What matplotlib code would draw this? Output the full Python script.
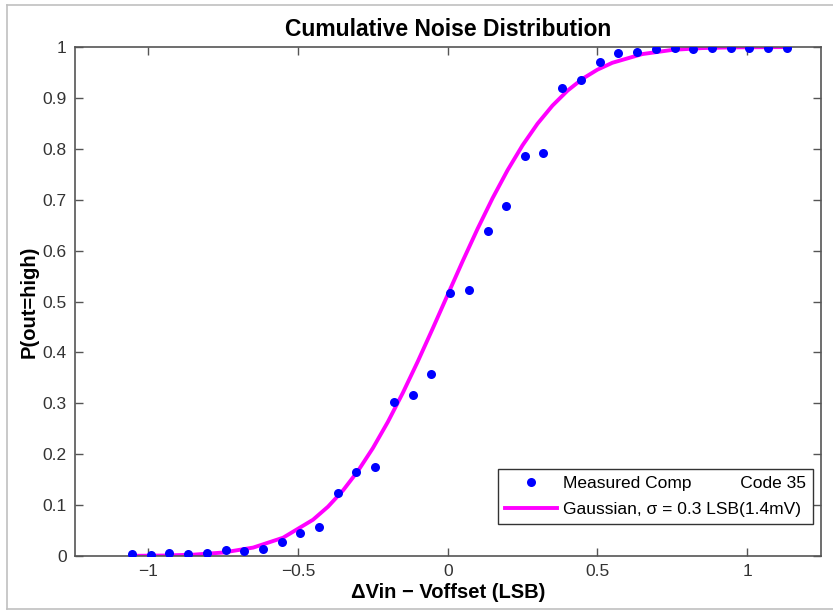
import matplotlib
matplotlib.use("Agg")
import matplotlib.pyplot as plt
from matplotlib.lines import Line2D

plt.rcParams['font.family'] = ['Liberation Sans', 'DejaVu Sans']

# Measured data points
meas_x = [-1.055, -0.992, -0.93, -0.867, -0.805, -0.742, -0.68, -0.617, -0.555, -0.492,
          -0.43, -0.367, -0.305, -0.242, -0.18, -0.117, -0.055, 0.008, 0.07, 0.133,
          0.195, 0.258, 0.32, 0.383, 0.445, 0.508, 0.57, 0.633, 0.695, 0.758,
          0.82, 0.883, 0.945, 1.008, 1.07, 1.133]
meas_y = [0.003, 0.002, 0.005, 0.004, 0.005, 0.011, 0.009, 0.014, 0.027, 0.046,
          0.057, 0.124, 0.166, 0.174, 0.303, 0.316, 0.357, 0.517, 0.522, 0.638,
          0.687, 0.786, 0.791, 0.919, 0.935, 0.971, 0.988, 0.991, 0.996, 0.998,
          0.997, 0.999, 0.999, 0.999, 0.999, 0.999]

# Fitted Gaussian curve
fit_x = [-1.055, -0.95, -0.85, -0.75, -0.65, -0.55, -0.45, -0.4, -0.35, -0.3,
         -0.25, -0.2, -0.15, -0.1, -0.05, 0.0, 0.05, 0.1, 0.15, 0.2,
         0.25, 0.3, 0.35, 0.4, 0.45, 0.5, 0.55, 0.65, 0.75, 0.85, 0.95, 1.133]
fit_y = [0.0003, 0.0009, 0.0026, 0.0068, 0.0165, 0.0359, 0.0712, 0.0968, 0.1286, 0.1669,
         0.2119, 0.2633, 0.3204, 0.3821, 0.4470, 0.5133, 0.5793, 0.6431, 0.7031, 0.7580,
         0.8069, 0.8493, 0.8849, 0.9141, 0.9374, 0.9554, 0.9690, 0.9861, 0.9943, 0.9979,
         0.9993, 0.9999]

x_ticks = [-1, -0.5, 0, 0.5, 1]
x_tick_labels = ['\u22121', '\u22120.5', '0', '0.5', '1']
y_ticks = [0, 0.1, 0.2, 0.3, 0.4, 0.5, 0.6, 0.7, 0.8, 0.9, 1]
y_tick_labels = ['0', '0.1', '0.2', '0.3', '0.4', '0.5', '0.6', '0.7', '0.8', '0.9', '1']

W, H = 833, 611
fig = plt.figure(figsize=(W / 100, H / 100), dpi=100)
fig.patch.set_facecolor('white')

# light gray frame around figure
border_col = '#c0c0c0'
fig.add_artist(Line2D([7 / W, 1], [1 - 5 / H, 1 - 5 / H], color=border_col, lw=1.2, transform=fig.transFigure))
fig.add_artist(Line2D([7 / W, 7 / W], [1 - 5 / H, 1 - 609 / H], color=border_col, lw=1.2, transform=fig.transFigure))
fig.add_artist(Line2D([7 / W, 1], [1 - 609 / H, 1 - 609 / H], color=border_col, lw=1.2, transform=fig.transFigure))

left, right, top, bottom = 75, 821, 47, 556
ax = fig.add_axes([left / W, 1 - bottom / H, (right - left) / W, (bottom - top) / H])

ax.plot(fit_x, fit_y, color='#ff00ff', lw=2.8, zorder=2,
        label='Gaussian, \u03c3 = 0.3 LSB(1.4mV)')
ax.plot(meas_x, meas_y, 'o', color='#0000ff', markersize=6.5, markeredgewidth=0, zorder=3,
        label='Measured Comp' + ' ' * 10 + 'Code 35')

ax.set_xlim(-1.245, 1.247)
ax.set_ylim(0, 1)
ax.set_xticks(x_ticks)
ax.set_xticklabels(x_tick_labels)
ax.set_yticks(y_ticks)
ax.set_yticklabels(y_tick_labels)

spine_col = '#555555'
for s in ax.spines.values():
    s.set_color(spine_col)
    s.set_linewidth(1.2)
ax.tick_params(direction='in', length=6, width=1.0, color=spine_col,
               top=True, right=True, labelsize=12.5, labelcolor='#333333', pad=6)

ax.set_title('Cumulative Noise Distribution', fontsize=16.5, fontweight='bold', pad=8)
ax.set_xlabel('\u0394Vin \u2212 Voffset (LSB)', fontsize=14.5, fontweight='bold', labelpad=3)
ax.set_ylabel('P(out=high)', fontsize=14.5, fontweight='bold', labelpad=3)

handles, labels = ax.get_legend_handles_labels()
leg = ax.legend(handles[::-1], labels[::-1], loc='lower right',
                bbox_to_anchor=(0.989, 0.063), borderaxespad=0, fontsize=12.5,
                frameon=True, fancybox=False, edgecolor='#333333', framealpha=1,
                handlelength=3.0, handletextpad=0.35, borderpad=0.4, labelspacing=0.6)
leg.get_frame().set_linewidth(1.0)

fig.savefig('out.png', dpi=100, facecolor='white')
